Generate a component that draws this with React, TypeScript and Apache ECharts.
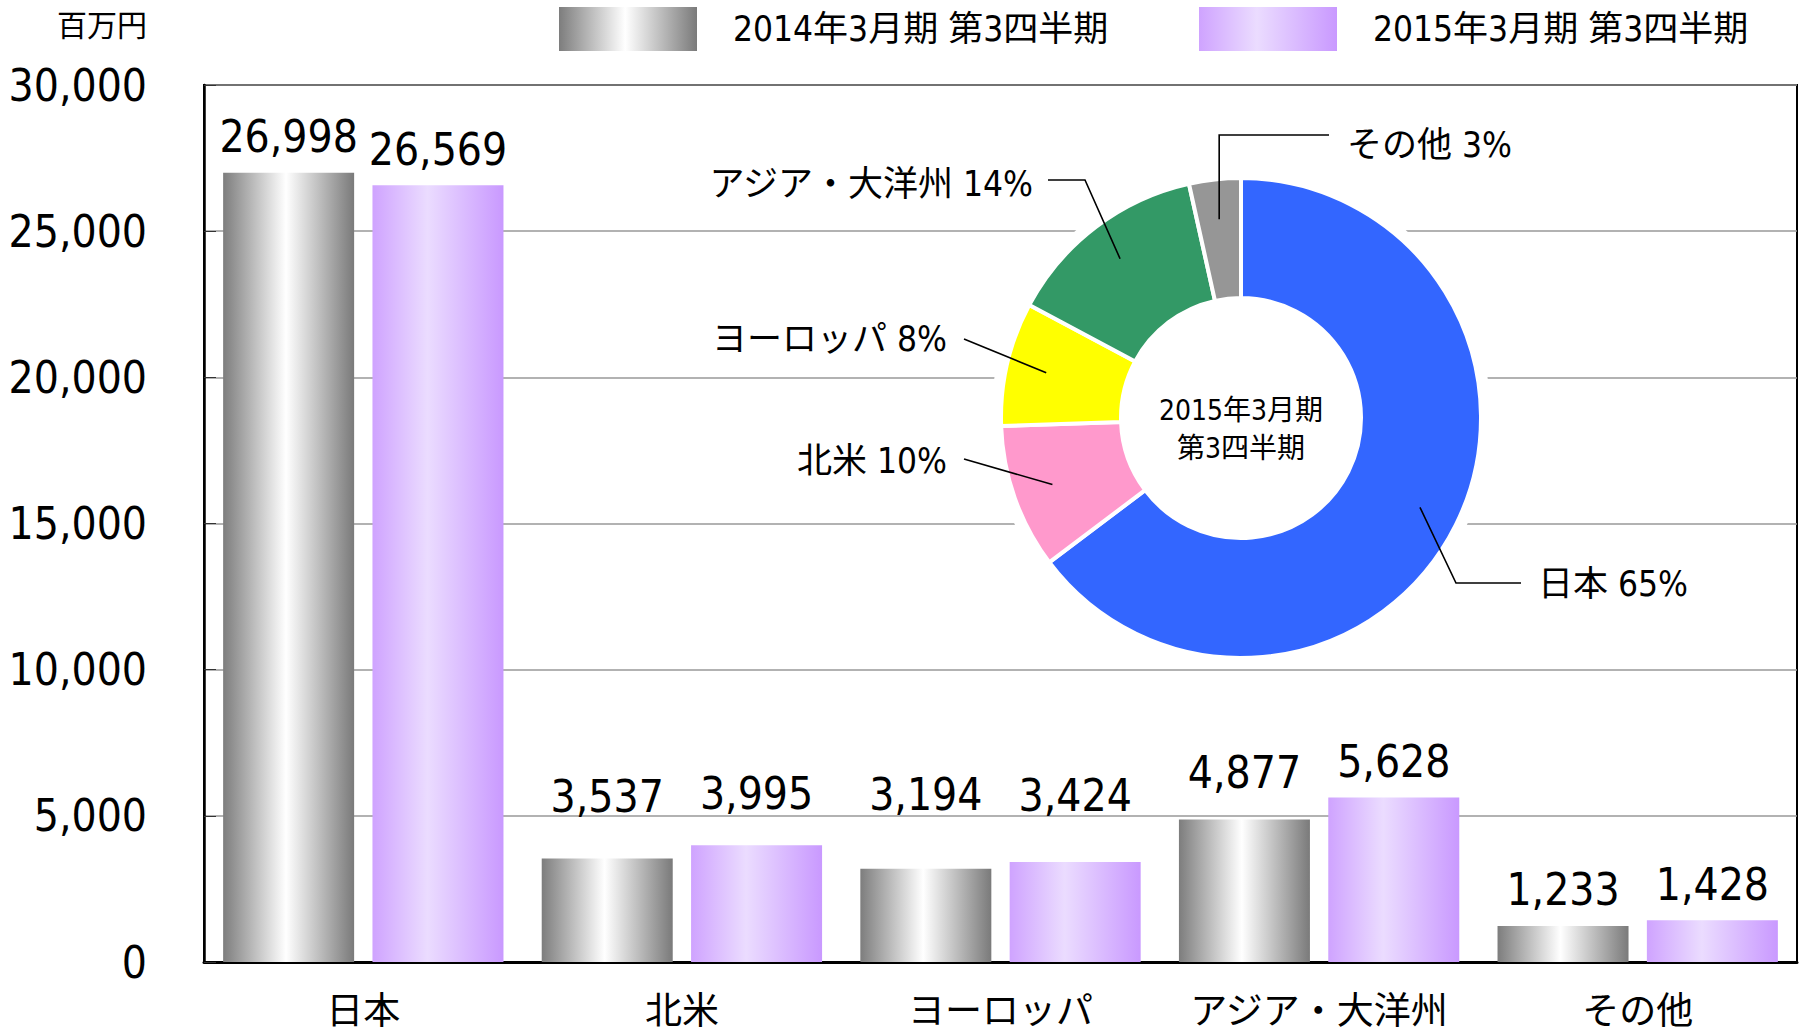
import React, { useEffect, useRef } from 'react';
import * as echarts from 'echarts';

const CATEGORIES = ['日本', '北米', 'ヨーロッパ', 'アジア・大洋州', 'その他'];
const SERIES_NAMES = ['2014年3月期 第3四半期', '2015年3月期 第3四半期'];
const FY2014_Q3 = [26998, 3537, 3194, 4877, 1233];
const FY2015_Q3 = [26569, 3995, 3424, 5628, 1428];
const Y_MIN = 0;
const Y_MAX = 30000;
const Y_INTERVAL = 5000;
const UNIT_LABEL = '百万円';
const PIE_CENTER_TEXT = '2015年3月期\n第3四半期';
const PIE_COLORS = ['#3366ff', '#ff99cc', '#ffff00', '#339966', '#969696'];

// extra upward shift of some value labels (px), as placed in the original
const LABEL_LIFT_2014 = [0, 26, 38, 11, 0];
const LABEL_LIFT_2015 = [0, 16, 30, 0, 0];

const FONT = "'Liberation Sans Narrow', 'DejaVu Sans Condensed', 'Noto Sans CJK JP', sans-serif";

// pie geometry (px)
const PIE_CX = 1241;
const PIE_CY = 418;
const PIE_R_IN = 120;
const PIE_R_OUT = 240;
const LINE_START_R = 200;

// label layout hints per slice: elbow / end of leader line and label anchor
const LABEL_HINTS: any[] = [
  { elbow: [1456, 583], end: [1521, 583], label: [1538, 584], align: 'left' },
  { elbow: null, end: [964, 459], label: [947, 461], align: 'right' },
  { elbow: null, end: [964, 339], label: [947, 339], align: 'right' },
  { elbow: [1085, 180], end: [1048, 180], label: [1033, 184], align: 'right' },
  { elbowY: 135, end: [1329, 135], label: [1347, 145], align: 'left' },
];

const fmt = (v: number) => Number(v).toLocaleString('en-US');

export default function App() {
  const ref = useRef<HTMLDivElement>(null);
  useEffect(() => {
    document.body.style.margin = '0';
    if (!ref.current) return;
    const chart = echarts.init(ref.current, null, { renderer: 'svg' });

    const grayGrad = new echarts.graphic.LinearGradient(0, 0, 1, 0, [
      { offset: 0, color: '#7d7d7d' },
      { offset: 0.48, color: '#ffffff' },
      { offset: 1, color: '#7a7a7a' },
    ]);
    const purpleGrad = new echarts.graphic.LinearGradient(0, 0, 1, 0, [
      { offset: 0, color: '#cfa3ff' },
      { offset: 0.42, color: '#ebdcff' },
      { offset: 1, color: '#c999ff' },
    ]);

    const total = FY2015_Q3.reduce((a, b) => a + b, 0);
    const midAngles: number[] = [];
    let cum = 0;
    FY2015_Q3.forEach((v) => {
      midAngles.push(((cum + v / 2) / total) * Math.PI * 2);
      cum += v;
    });

    const leaderPoints = midAngles.map((th, i) => {
      const h = LABEL_HINTS[i];
      const start = [PIE_CX + LINE_START_R * Math.sin(th), PIE_CY - LINE_START_R * Math.cos(th)];
      let elbow;
      if (h.elbowY !== undefined) elbow = [start[0], h.elbowY];
      else if (h.elbow) elbow = h.elbow;
      else elbow = h.end;
      return [start, elbow, h.end];
    });

    const labelLayout = (params: any) => {
      const h = LABEL_HINTS[params.dataIndex];
      return {
        x: h.label[0],
        y: h.label[1],
        align: h.align,
        verticalAlign: 'middle',
      };
    };

    const legendBase = {
      top: 2,
      itemWidth: 138,
      itemHeight: 44,
      icon: 'rect',
      selectedMode: false,
      textStyle: { fontSize: 35, color: '#000', fontFamily: FONT, padding: [0, 0, 0, 31] },
    };

    const barLabel = { show: true, position: 'top', distance: 14, fontSize: 44, color: '#000', formatter: (p: any) => fmt(p.value), fontFamily: FONT };

    const option: any = {
      animation: false,
      backgroundColor: '#ffffff',
      textStyle: { fontFamily: FONT },
      legend: [
        { ...legendBase, left: 554, data: [SERIES_NAMES[0]] },
        { ...legendBase, left: 1194, data: [SERIES_NAMES[1]] },
      ],
      grid: { left: 204, right: 3, top: 85, bottom: 70, show: true, borderColor: '#000', borderWidth: 2 },
      xAxis: {
        type: 'category',
        data: CATEGORIES,
        axisLine: { lineStyle: { color: '#000', width: 3 } },
        axisTick: { inside: true, length: 10, lineStyle: { color: '#333', width: 1 } },
        axisLabel: { interval: 0, fontSize: 37, color: '#000', margin: 31, fontFamily: FONT },
      },
      yAxis: {
        type: 'value',
        min: Y_MIN,
        max: Y_MAX,
        interval: Y_INTERVAL,
        axisLine: { show: true, lineStyle: { color: '#000', width: 2.5 } },
        axisTick: { show: true, inside: true, length: 12, lineStyle: { color: '#333' } },
        splitLine: { lineStyle: { color: '#999', width: 1.5 } },
        axisLabel: { fontSize: 44, color: '#000', margin: 57, formatter: fmt, fontFamily: FONT },
      },
      graphic: [
        {
          type: 'text',
          x: 147,
          y: 25,
          z: 100,
          style: { text: UNIT_LABEL, fontSize: 30, fill: '#000', align: 'right', verticalAlign: 'middle', fontFamily: FONT },
        },
        {
          type: 'text',
          x: PIE_CX,
          y: 429,
          z: 100,
          style: {
            text: PIE_CENTER_TEXT,
            fontSize: 28,
            lineHeight: 38,
            fill: '#000',
            align: 'center',
            verticalAlign: 'middle',
            fontFamily: FONT,
          },
        },
        ...leaderPoints.map((pts) => ({
          type: 'polyline',
          z: 100,
          silent: true,
          shape: { points: pts },
          style: { stroke: '#000', lineWidth: 1.6, fill: null },
        })),
      ],
      series: [
        {
          name: SERIES_NAMES[0],
          type: 'bar',
          data: FY2014_Q3.map((v, i) => ({ value: v, label: { offset: [0, -LABEL_LIFT_2014[i]] } })),
          barWidth: 131,
          barGap: '14%',
          itemStyle: { color: grayGrad },
          label: barLabel,
        },
        {
          name: SERIES_NAMES[1],
          type: 'bar',
          data: FY2015_Q3.map((v, i) => ({ value: v, label: { offset: [0, -LABEL_LIFT_2015[i]] } })),
          barWidth: 131,
          barGap: '14%',
          itemStyle: { color: purpleGrad },
          label: barLabel,
        },
        {
          type: 'pie',
          silent: true,
          z: 2,
          center: [PIE_CX, PIE_CY],
          radius: [0, 250],
          data: [{ value: 1, name: '' }],
          itemStyle: { color: '#ffffff' },
          label: { show: false },
          labelLine: { show: false },
          emphasis: { disabled: true },
        },
        {
          type: 'pie',
          z: 3,
          center: [PIE_CX, PIE_CY],
          radius: [PIE_R_IN, PIE_R_OUT],
          startAngle: 90,
          clockwise: true,
          percentPrecision: 0,
          avoidLabelOverlap: false,
          data: CATEGORIES.map((c, i) => ({ name: c, value: FY2015_Q3[i], itemStyle: { color: PIE_COLORS[i] } })),
          itemStyle: { borderColor: '#ffffff', borderWidth: 4 },
          label: { show: true, position: 'outside', formatter: '{b} {d}%', fontSize: 35, color: '#000', fontFamily: FONT },
          labelLine: { show: false },
          labelLayout,
          emphasis: { disabled: true },
        },
      ],
    };
    chart.setOption(option);
    return () => chart.dispose();
  }, []);
  return <div ref={ref} style={{ width: 1800, height: 1032 }} />;
}
